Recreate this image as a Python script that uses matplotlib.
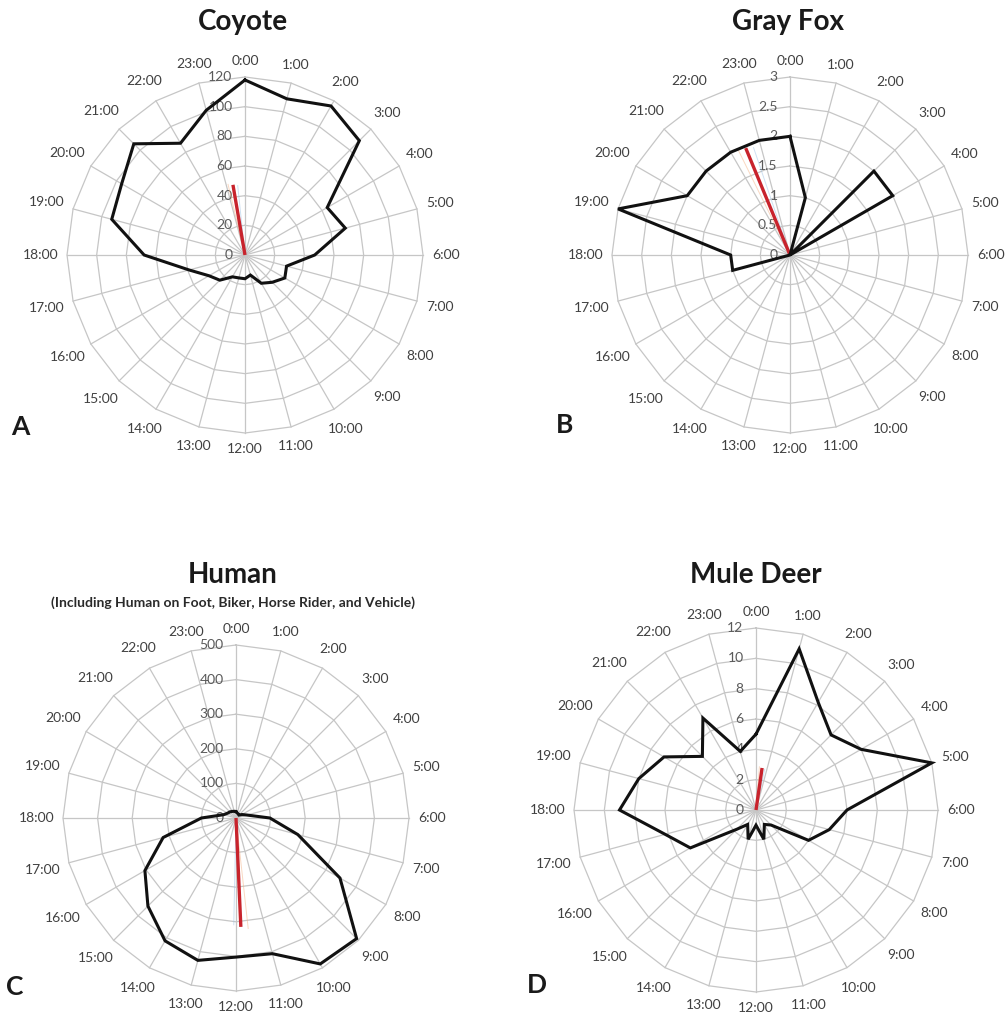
import numpy as np
import matplotlib.pyplot as plt

plt.rcParams['font.family'] = ['Lato', 'DejaVu Sans']

W, H = 1008, 1019

# hourly detections (0:00 ... 23:00)
hours = [f"{h}:00" for h in range(24)]

coyote = [118, 109, 116, 109, 64, 70, 47, 29, 31, 26, 22, 14,
          16, 16, 17, 24, 28, 39, 68, 93, 96, 106, 87, 101]
gray_fox = [2, 1, 0, 2, 2, 0, 0, 0, 0, 0, 0, 0,
            0, 0, 0, 0, 0, 1, 1, 3, 2, 2, 2, 2]
human = [18, 15, 13, 12, 20, 33, 98, 185, 347, 493, 487, 406,
         402, 426, 410, 360, 304, 218, 100, 37, 28, 25, 22, 20]
mule_deer = [5, 11, 8.2, 7, 8, 12, 6, 5, 4, 1.4, 1.1, 2,
             1, 2, 1.1, 1.8, 5, 6.2, 9, 8, 7, 5, 7, 4]

# mean activity vector: (hour, length)
coyote_mean = (23.35, 48)
gray_fox_mean = (22.5, 1.95)
human_mean = (11.83, 315)
mule_deer_mean = (0.55, 2.8)

coyote_ticks = [0, 20, 40, 60, 80, 100, 120]
gray_fox_ticks = [0, 0.5, 1, 1.5, 2, 2.5, 3]
human_ticks = [0, 100, 200, 300, 400, 500]
mule_deer_ticks = [0, 2, 4, 6, 8, 10, 12]
gray_fox_ticklabels = ['0', '0.5', '1', '1.5', '2', '2.5', '3']

GRID = '#c6c6c6'
TXT = '#404040'


def hour_angle(h):
    return np.asarray(h) * 2 * np.pi / 24


def radar(fig, cx, cy, R, values, mean, ticks, ticklabels=None):
    ax = fig.add_axes([(cx - R) / W, 1 - (cy + R) / H, 2 * R / W, 2 * R / H],
                      projection='polar')
    ax.set_theta_zero_location('N')
    ax.set_theta_direction(-1)
    rmax = ticks[-1]
    ax.set_ylim(0, rmax)
    ax.set_xticks([])
    ax.set_yticks([])
    ax.grid(False)
    ax.spines['polar'].set_visible(False)
    ax.patch.set_alpha(0)

    th = hour_angle(range(24))
    th_closed = np.append(th, th[0])

    # polygon rings and spokes
    for t in ticks[1:]:
        ax.plot(th_closed, [t] * 25, color=GRID, lw=0.9, zorder=1, clip_on=False)
    for a in th:
        ax.plot([a, a], [0, rmax], color=GRID, lw=0.9, zorder=1, clip_on=False)

    # ring labels left of the 0:00 spoke
    if ticklabels is None:
        ticklabels = [f"{t:g}" for t in ticks]
    for t, lab in zip(ticks, ticklabels):
        ax.annotate(lab, xy=(0, t), xytext=(-9, 0), textcoords='offset points',
                    ha='right', va='center', fontsize=10, color='#5a5a5a',
                    zorder=2)

    # hour labels around the outside
    for a, lab in zip(th, hours):
        w = 6.4 * len(lab)
        off = 10 + abs(np.sin(a)) * w / 2 + abs(np.cos(a)) * 6
        ax.text(a, rmax * (1 + off / R), lab, ha='center', va='center',
                fontsize=10, color=TXT, clip_on=False)

    # faint companion lines and the mean vector
    mh, ml = mean
    ax.plot(hour_angle([mh - 0.25, mh - 0.25]), [0, ml * 1.02], color='#f4b183',
            lw=0.7, alpha=0.5, zorder=3)
    ax.plot(hour_angle([mh + 0.25, mh + 0.25]), [0, ml * 0.98], color='#9dc3e6',
            lw=0.7, alpha=0.5, zorder=3)
    ax.plot(hour_angle([mh, mh]), [0, ml], color='#c8232c', lw=2.4,
            solid_capstyle='butt', zorder=4)

    ax.plot(th_closed, np.append(values, values[0]), color='#111111', lw=2.2,
            zorder=5, clip_on=False, solid_joinstyle='miter')
    return ax


fig = plt.figure(figsize=(W / 100, H / 100), dpi=100)

radar(fig, 245, 255, 178, coyote, coyote_mean, coyote_ticks)
radar(fig, 790, 255, 178, gray_fox, gray_fox_mean, gray_fox_ticks, gray_fox_ticklabels)
radar(fig, 236, 818, 173, human, human_mean, human_ticks)
radar(fig, 756, 810, 182, mule_deer, mule_deer_mean, mule_deer_ticks)


def ftext(x, y, s, **kw):
    fig.text(x / W, 1 - y / H, s, ha='center', va='center', **kw)


ftext(243, 22, 'Coyote', fontsize=20, fontweight='bold', color='#1a1a1a')
ftext(788, 22, 'Gray Fox', fontsize=20, fontweight='bold', color='#1a1a1a')
ftext(233, 575, 'Human', fontsize=20, fontweight='bold', color='#1a1a1a')
ftext(233, 603, '(Including Human on Foot, Biker, Horse Rider, and Vehicle)',
      fontsize=10, fontweight='bold', color='#2a2a2a')
ftext(756, 575, 'Mule Deer', fontsize=20, fontweight='bold', color='#1a1a1a')

for x, y, s in [(20, 427, 'A'), (565, 425, 'B'), (15, 987, 'C'), (537, 985, 'D')]:
    ftext(x, y, s, fontsize=19, fontweight='bold', color='#1a1a1a')

fig.savefig('out.png', dpi=100, facecolor='white')
